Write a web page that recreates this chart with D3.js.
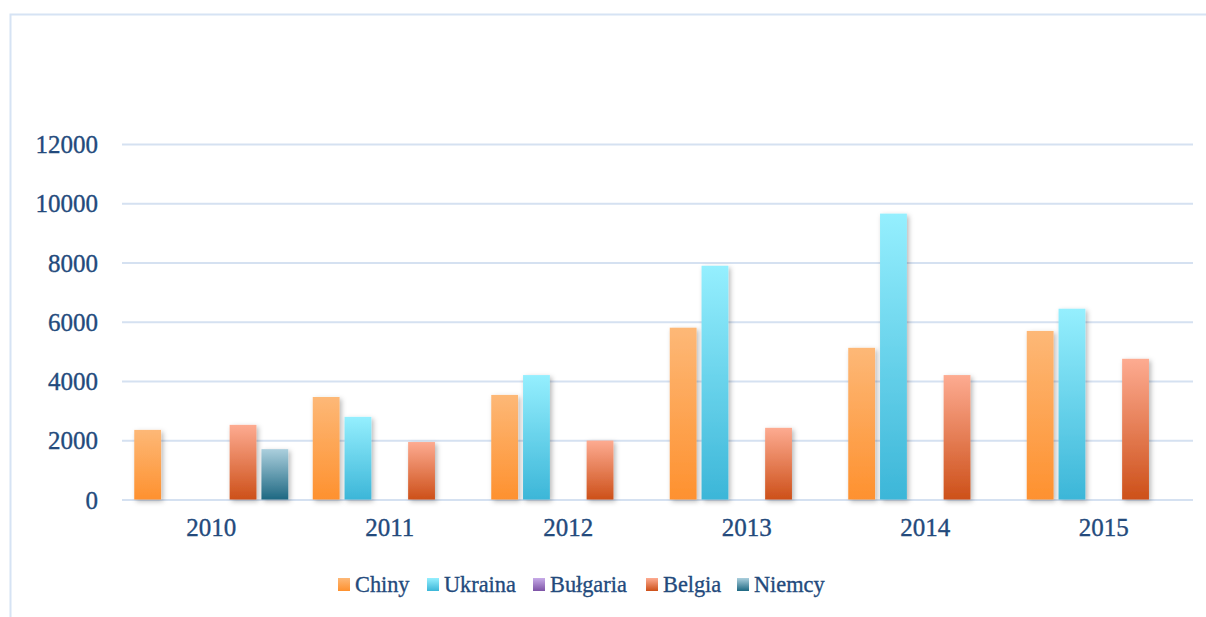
<!DOCTYPE html>
<html><head><meta charset="utf-8">
<script src="https://cdn.jsdelivr.net/npm/d3@7"></script>
<style>
html,body{margin:0;padding:0;background:#fff;}
svg{display:block;}
text{font-family:"Liberation Serif","Times New Roman",serif;fill:#234a7c;stroke:#234a7c;stroke-width:0.35px;}
</style></head>
<body><svg id="c" width="1206" height="617"></svg>
<script>
const years = ["2010","2011","2012","2013","2014","2015"];
const seriesNames = ["Chiny","Ukraina","Bułgaria","Belgia","Niemcy"];
const chiny   = [2350, 3460, 3530, 5800, 5120, 5690];
const ukraina = [null, 2790, 4200, 7890, 9650, 6440];
const bulgaria= [null, null, null, null, null, null];
const belgia  = [2520, 1940, 1990, 2420, 4200, 4750];
const niemcy  = [1700, null, null, null, null, null];
const yTicks  = [0, 2000, 4000, 6000, 8000, 10000, 12000];

const seriesValues = [chiny, ukraina, bulgaria, belgia, niemcy];
const grads = [
  ["#fdb877","#fe912f"],
  ["#95effe","#3cb6d8"],
  ["#c7abe8","#7d53a6"],
  ["#fdab91","#cd5019"],
  ["#abcfdd","#1e6882"]
];

const svg = d3.select("#c");
const defs = svg.append("defs");
grads.forEach((g,i)=>{
  const lg = defs.append("linearGradient").attr("id","g"+i).attr("x1",0).attr("y1",0).attr("x2",0).attr("y2",1);
  lg.append("stop").attr("offset","0%").attr("stop-color",g[0]);
  lg.append("stop").attr("offset","100%").attr("stop-color",g[1]);
});
const f = defs.append("filter").attr("id","sh").attr("x","-30%").attr("y","-10%").attr("width","170%").attr("height","130%");
f.append("feDropShadow").attr("dx",2).attr("dy",2).attr("stdDeviation",2.5).attr("flood-color","#000").attr("flood-opacity",0.28);

// frame
svg.append("path").attr("d","M10.5,617 L10.5,14.5 L1206,14.5")
  .attr("fill","none").attr("stroke","#d6e3f4").attr("stroke-width",2);

const pL=122, pR=1193, pT=144, pB=499.5;
const y = d3.scaleLinear().domain([0,12000]).range([pB, pT]);
const x0 = d3.scaleBand().domain(years).range([pL,pR]).paddingInner(0).paddingOuter(0);
const groupW = 154;
const x1 = d3.scaleBand().domain(seriesNames).range([0,groupW]).paddingInner(5/32).paddingOuter(0);
const off = (x0.bandwidth()-groupW)/2;

// grid
const yAxis = d3.axisLeft(y).tickValues(yTicks).tickSize(-(pR-pL)).tickPadding(24).tickFormat(d3.format("d"));
const ga = svg.append("g").attr("transform",`translate(${pL},0)`).call(yAxis);
ga.select(".domain").remove();
ga.selectAll(".tick line").attr("stroke","#d5e1f1").attr("stroke-width",2);
ga.selectAll(".tick text").attr("font-size",25).attr("fill","#234a7c").attr("dy","0.34em");

// bars
seriesValues.forEach((vals,si)=>{
  const data = years.map((yr,i)=>({yr, v: vals[i]})).filter(d=>d.v!=null);
  svg.append("g").attr("filter","url(#sh)").selectAll("rect").data(data).join("rect")
    .attr("x",d=>x0(d.yr)+off+x1(seriesNames[si]))
    .attr("width",x1.bandwidth())
    .attr("y",d=>y(d.v))
    .attr("height",d=>y(0)-y(d.v))
    .attr("fill",`url(#g${si})`);
});

// x axis labels
const xAxis = d3.axisBottom(x0).tickSize(0).tickPadding(14);
const gx = svg.append("g").attr("transform",`translate(0,${pB})`).call(xAxis);
gx.select(".domain").remove();
gx.selectAll(".tick text").attr("font-size",25).attr("fill","#234a7c").attr("dy","0.88em");

// legend
const legX = [338, 427, 533, 646, 737];
const lg = svg.append("g");
seriesNames.forEach((n,i)=>{
  lg.append("rect").attr("x",legX[i]).attr("y",578).attr("width",12).attr("height",13).attr("fill",`url(#g${i})`);
  lg.append("text").attr("transform",`translate(${legX[i]+17},592) scale(0.93,1)`).attr("font-size",24).text(n);
});
</script></body></html>
